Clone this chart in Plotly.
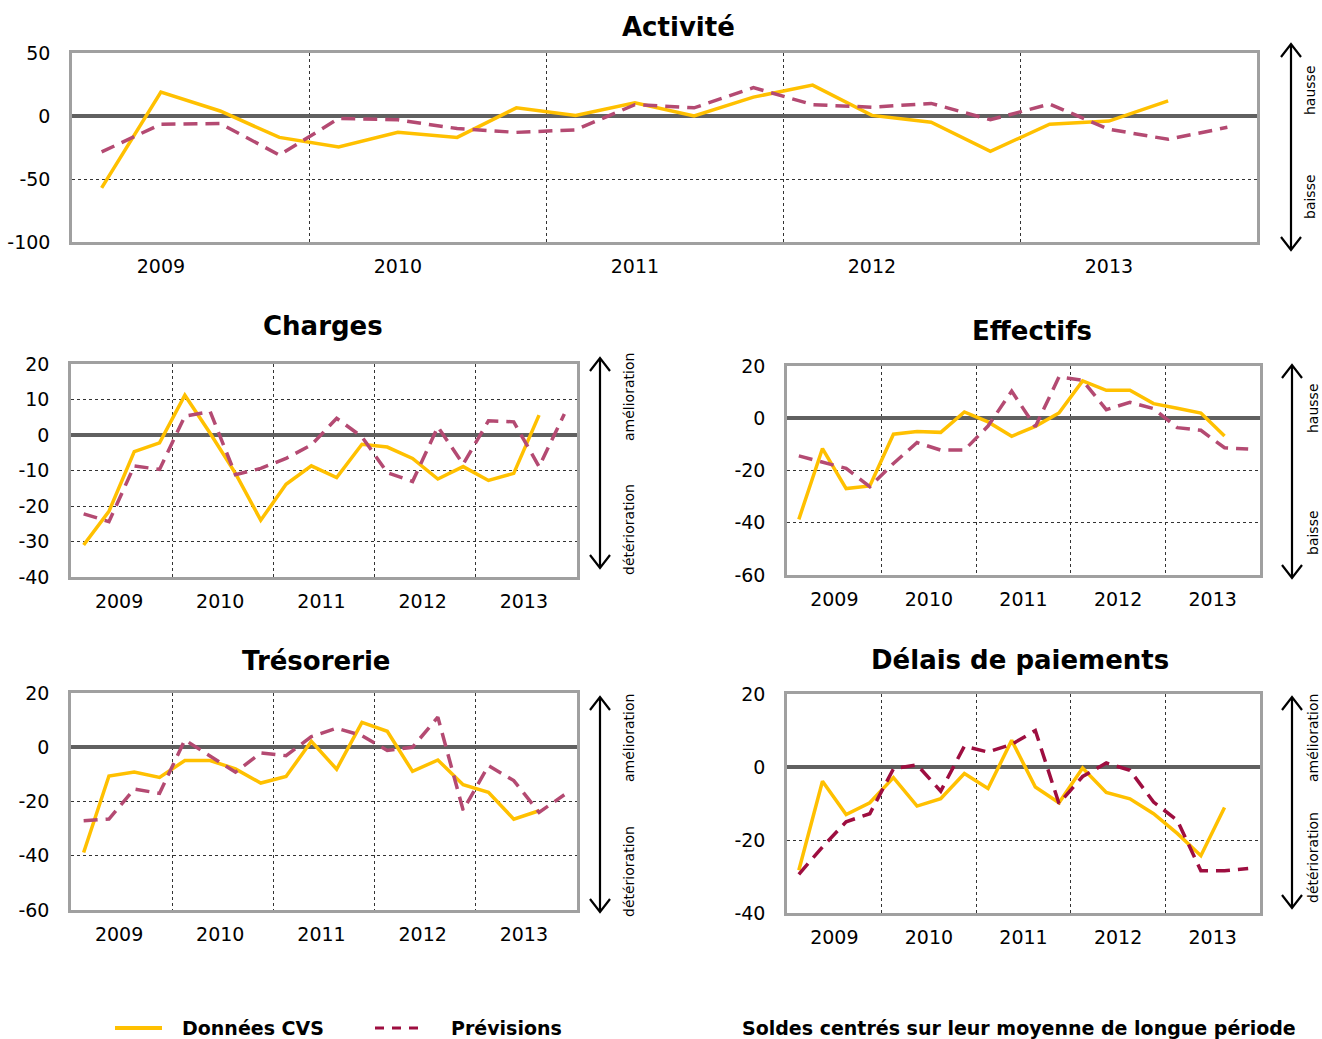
import plotly.graph_objects as go

W, H = 1322, 1039

years = ["2009", "2010", "2011", "2012", "2013"]

act_cvs = [-57, 19, 4, -17, -24.5, -13, -17, 6.5, 0.5, 10.5, 0, 15, 24.5, 0.5, -5, -28, -6.5, -4, 12]
act_prev = [-28.5, -6.5, -6, -31, -2, -3, -10, -13, -11, 9, 6.5, 22.5, 9, 7, 10, -3, 9.5, -10.5, -18.5, -9]

cha_cvs = [-31, -21.5, -4.7, -2.2, 11.2, 0.5, -10.8, -24, -13.9, -8.7, -12, -2.6, -3.4, -6.6, -12.4, -8.9, -12.8, -10.8, 5.6]
cha_prev = [-22.2, -24.4, -8.7, -9.7, 5.3, 6.6, -11.2, -9.4, -6.6, -2.8, 4.7, -0.5, -10.6, -13.1, 2.3, -8.2, 4, 3.7, -8.9, 5.9]

eff_cvs = [-38.7, -11.6, -26.9, -25.9, -6.1, -5.1, -5.4, 2.4, -1.4, -6.9, -3.1, 2, 14.3, 10.7, 10.7, 5.6, 3.8, 2, -6.8]
eff_prev = [-14.4, -16.7, -19.2, -26.2, -17.3, -9.3, -12.2, -12.2, -3, 10.4, -3.3, 15.8, 14.5, 3.3, 6.1, 3.7, -3.6, -4.6, -11.3, -11.8]

tre_cvs = [-38.8, -10.6, -9.1, -11.1, -4.9, -4.9, -8, -13.2, -10.8, 2.2, -8.1, 9.2, 5.9, -8.9, -4.7, -13.8, -16.6, -26.5, -23.4]
tre_prev = [-27.1, -26.5, -15.4, -17, 2.7, -3.4, -9.2, -2.1, -3.1, 3.9, 7, 4.3, -1.2, 0, 11.1, -23.2, -6.8, -12.3, -24, -17.5]

del_cvs = [-28.3, -3.9, -13, -9.8, -2.9, -10.7, -8.7, -1.8, -5.9, 7.3, -5.5, -9.8, -0.3, -7, -8.7, -12.8, -18.2, -24.3, -11.1]
del_prev = [-29.4, -21.9, -15, -12.8, -0.5, 0.6, -6.6, 5.7, 4.1, 6.2, 10, -10, -2.6, 1.1, -0.9, -9.6, -14.6, -28.4, -28.4, -27.8]

act_ticks = [-100, -50, 0, 50]
cha_ticks = [-40, -30, -20, -10, 0, 10, 20]
eff_ticks = [-60, -40, -20, 0, 20]
tre_ticks = [-60, -40, -20, 0, 20]
del_ticks = [-40, -20, 0, 20]

YELLOW = "#FFC000"
PURPLE = "#B44A72"
DARKRED = "#9E0E40"
FONT = "DejaVu Sans"


def px(x):
    return x / W


def py(y):
    return 1 - y / H


panels = [
    dict(title="Activité", cvs=act_cvs, prev=act_prev, pc=PURPLE, ticks=act_ticks, lab=1.0,
         box=(72, 1257, 53, 242), tpos=(678, 27),
         arrow=(1291, 44, 250), labels=[("hausse", 1310, 90), ("baisse", 1310, 197)]),
    dict(title="Charges", cvs=cha_cvs, prev=cha_prev, pc=PURPLE, ticks=cha_ticks, lab=1.4,
         box=(71, 577, 364, 577), tpos=(323, 326),
         arrow=(600, 358, 568), labels=[("amélioration", 629, 397), ("détérioration", 629, 530)]),
    dict(title="Effectifs", cvs=eff_cvs, prev=eff_prev, pc=PURPLE, ticks=eff_ticks, lab=1.5,
         box=(787, 1260, 366, 575), tpos=(1032, 331),
         arrow=(1292, 365, 578), labels=[("hausse", 1313, 408), ("baisse", 1313, 533)]),
    dict(title="Trésorerie", cvs=tre_cvs, prev=tre_prev, pc=PURPLE, ticks=tre_ticks, lab=1.4,
         box=(71, 577, 693, 910), tpos=(316, 661),
         arrow=(600, 697, 912), labels=[("amélioration", 629, 738), ("détérioration", 629, 872)]),
    dict(title="Délais de paiements", cvs=del_cvs, prev=del_prev, pc=DARKRED, ticks=del_ticks, lab=1.5,
         box=(787, 1260, 694, 913), tpos=(1020, 660),
         arrow=(1292, 697, 908), labels=[("amélioration", 1313, 738), ("détérioration", 1313, 858)]),
]

fig = go.Figure()
shapes = []
annotations = []

for i, p in enumerate(panels):
    n = "" if i == 0 else str(i + 1)
    xa, ya = "x" + n, "y" + n
    x0, x1, yt, yb = p["box"]
    fig.add_trace(go.Scatter(x=list(range(len(p["cvs"]))), y=p["cvs"], mode="lines",
                             line=dict(color=YELLOW, width=3.5), xaxis=xa, yaxis=ya,
                             showlegend=False, name="Données CVS"))
    fig.add_trace(go.Scatter(x=list(range(len(p["prev"]))), y=p["prev"], mode="lines",
                             line=dict(color=p["pc"], width=3.5, dash="14px,8px"), xaxis=xa, yaxis=ya,
                             showlegend=False, name="Prévisions"))
    nq = len(p["prev"])
    tk = p["ticks"]
    fig.layout["xaxis" + n] = dict(
        domain=[px(x0), px(x1)], anchor=ya, range=[-0.5, nq - 0.5], automargin=False,
        tickmode="array", tickvals=[p["lab"] + 4 * k for k in range(len(years))], ticktext=years,
        showgrid=False, zeroline=False, showline=True, mirror=True,
        linecolor="#A0A0A0", linewidth=2.5, ticks="", ticklabelstandoff=5,
        tickfont=dict(family=FONT, size=19, color="black"),
        minor=dict(tickmode="array", tickvals=[3.5 + 4 * k for k in range(len(years) - 1)],
                   showgrid=True, gridcolor="#333333", griddash="dot", gridwidth=1, ticks=""),
        fixedrange=True,
    )
    fig.layout["yaxis" + n] = dict(
        domain=[py(yb), py(yt)], anchor=xa, range=[tk[0], tk[-1]], automargin=False,
        tickmode="array", tickvals=tk, ticktext=[str(v) for v in tk],
        showgrid=True, gridcolor="#333333", griddash="dot", gridwidth=1,
        zeroline=True, zerolinecolor="#606060", zerolinewidth=4,
        showline=True, mirror=True, linecolor="#A0A0A0", linewidth=2.5,
        ticks="", ticklabelstandoff=15,
        tickfont=dict(family=FONT, size=19, color="black"), fixedrange=True,
    )
    annotations.append(dict(text="<b>" + p["title"] + "</b>", x=px(p["tpos"][0]), y=py(p["tpos"][1]),
                            xref="paper", yref="paper", xanchor="center", yanchor="middle",
                            showarrow=False, font=dict(family=FONT, size=26, color="black")))
    ax, at, ab = p["arrow"]
    path = (f"M {px(ax)},{py(at)} L {px(ax)},{py(ab)} "
            f"M {px(ax-10)},{py(at+13)} L {px(ax)},{py(at)} L {px(ax+10)},{py(at+13)} "
            f"M {px(ax-10)},{py(ab-13)} L {px(ax)},{py(ab)} L {px(ax+10)},{py(ab-13)}")
    shapes.append(dict(type="path", path=path, xref="paper", yref="paper",
                       line=dict(color="black", width=2.2)))
    for txt, tx, ty in p["labels"]:
        annotations.append(dict(text=txt, x=px(tx), y=py(ty), xref="paper", yref="paper",
                                xanchor="center", yanchor="middle", textangle=-90, showarrow=False,
                                font=dict(family=FONT, size=14, color="black")))

# custom legend
shapes.append(dict(type="line", xref="paper", yref="paper", x0=px(115), x1=px(162), y0=py(1028), y1=py(1028),
                   line=dict(color=YELLOW, width=4)))
shapes.append(dict(type="line", xref="paper", yref="paper", x0=px(375), x1=px(422), y0=py(1028), y1=py(1028),
                   line=dict(color=DARKRED, width=3, dash="9px,8px")))
for txt, tx in [("Données CVS", 180), ("Prévisions", 449), ("Soldes centrés sur leur moyenne de longue période", 740)]:
    annotations.append(dict(text="<b>" + txt + "</b>", x=px(tx), y=py(1028), xref="paper", yref="paper",
                            xanchor="left", yanchor="middle", showarrow=False,
                            font=dict(family=FONT, size=19, color="black")))

fig.update_layout(width=W, height=H, autosize=False,
                  margin=dict(l=0, r=0, t=0, b=0, pad=0, autoexpand=False),
                  plot_bgcolor="white", paper_bgcolor="white",
                  shapes=shapes, annotations=annotations, showlegend=False)

post = "document.documentElement.style.margin='0';document.body.style.margin='0';"

fig.write_html("out.html", config={"displayModeBar": False}, post_script=post)
